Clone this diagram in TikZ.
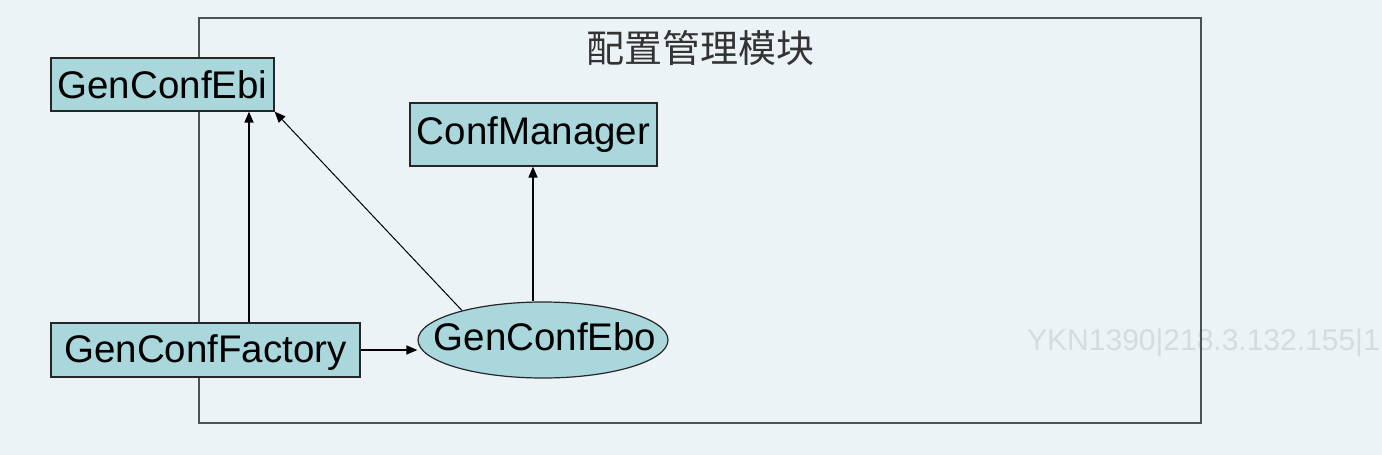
\documentclass[tikz,border=0pt]{standalone}
\usepackage{fontspec}
\setmainfont{Liberation Sans}
\newfontfamily\cjk{Noto Sans CJK SC}
\usetikzlibrary{shapes.geometric,arrows.meta}
\definecolor{bgc}{HTML}{EBF3F6}
\definecolor{boxc}{HTML}{A9D7DC}
\definecolor{framec}{HTML}{4A5354}
\definecolor{wmc}{HTML}{D5DCE0}
\tikzset{
  cls/.style={draw=black!85, line width=1.2pt, fill=boxc, inner sep=0pt, font=\fontsize{38.5}{40}\selectfont},
  ell/.style={ellipse, draw=black!85, line width=1.2pt, fill=boxc, inner sep=0pt},
  lbl/.style={inner sep=0pt, font=\fontsize{38.5}{40}\selectfont},
  arr/.style={line width=1.6pt, -{Triangle[length=11pt,width=9pt]}},
  thinarr/.style={line width=1pt, -{Triangle[length=11pt,width=9pt]}}
}
\begin{document}
\begin{tikzpicture}[x=1pt,y=-1pt]
\fill[bgc] (0,0) rectangle (1382,455);
\useasboundingbox (0,0) rectangle (1382,455);
\node[font=\fontsize{30}{32}\selectfont, text=wmc, anchor=west, inner sep=0pt] (wm) at (1027,343) {YKN1390|218.3.132.155|1};
\draw[framec, line width=1.6pt] (199,18) rectangle (1201,423);
\node[font=\cjk\fontsize{38}{40}\selectfont, text=black!80] (title) at (700,48) {配置管理模块};
\node[cls, minimum width=223pt, minimum height=53pt] (ebi) at (162.5,84.5) {GenConfEbi};
\node[cls, minimum width=247pt, minimum height=63pt] (mgr) at (533.5,134.5) {ConfManager};
\node[cls, minimum width=309pt, minimum height=54pt] (fac) at (205.5,350) {};
\node[lbl] (factext) at (205.5,353) {GenConfFactory};
\node[ell, minimum width=250pt, minimum height=76pt] (ebo) at (543,340) {};
\node[lbl] (ebotext) at (545,337) {GenConfEbo};
\draw[arr] (fac.north -| 249,0) -- (ebi.south -| 249,0);
\draw[thinarr] (ebo.160) -- (ebi.south east);
\draw[arr] (ebo.north -| 533,0) -- (mgr.south -| 533,0);
\draw[arr] (fac.east) -- (fac.east -| ebo.west);
\end{tikzpicture}
\end{document}
